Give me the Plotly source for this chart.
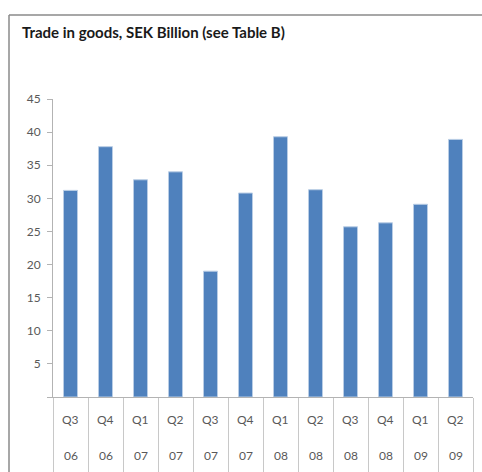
import plotly.graph_objects as go

# Quarterly trade in goods, SEK billion
quarters = ["Q3", "Q4", "Q1", "Q2", "Q3", "Q4", "Q1", "Q2", "Q3", "Q4", "Q1", "Q2"]
years = ["06", "06", "07", "07", "07", "07", "08", "08", "08", "08", "09", "09"]
values = [31.2, 37.8, 32.8, 34.0, 19.0, 30.8, 39.3, 31.3, 25.7, 26.3, 29.1, 38.9]
y_ticks = [0, 5, 10, 15, 20, 25, 30, 35, 40, 45]
y_ticktext = ["", "5", "10", "15", "20", "25", "30", "35", "40", "45"]

W, H = 482, 472
L, R, T, B = 53, 9, 99, 75
plot_w, plot_h = W - L - R, H - T - B

def px_x(x):
    return (x - L) / plot_w

def px_y(y):
    return (H - B - y) / plot_h

cats = [f"{q} {y}" for q, y in zip(quarters, years)]
grey_text = "#595959"
axis_grey = "#b3b3b3"
font_family = "Lato, 'Open Sans', sans-serif"
label_font = dict(size=12, color=grey_text, family=font_family)

fig = go.Figure(
    go.Bar(
        x=cats,
        y=values,
        width=0.4,
        marker=dict(color="#4f81bd", line=dict(color="#b9cde5", width=1)),
        hoverinfo="x+y",
    )
)

# Two-row category labels: quarter above, year below
annotations = []
for c, q, yr in zip(cats, quarters, years):
    annotations.append(dict(x=c, y=px_y(419.5), xref="x", yref="paper", text=q,
                            showarrow=False, yanchor="middle", font=label_font))
    annotations.append(dict(x=c, y=px_y(456), xref="x", yref="paper", text=yr,
                            showarrow=False, yanchor="middle", font=label_font))

frame = dict(color="#8a8a8a", width=1.5)

fig.update_layout(
    width=W,
    height=H,
    margin=dict(l=L, r=R, t=T, b=B, autoexpand=False),
    paper_bgcolor="white",
    plot_bgcolor="white",
    showlegend=False,
    title=dict(
        text="<b>Trade in goods, SEK Billion (see Table B)</b>",
        x=22 / W, xanchor="left", xref="container",
        y=1 - 33 / H, yanchor="middle", yref="container",
        font=dict(size=15, color="#1a1a1a", family=font_family),
    ),
    xaxis=dict(
        type="category",
        showline=True, linecolor=axis_grey, linewidth=1,
        ticks="outside", tickson="boundaries", ticklen=75,
        tickcolor="#c8c8c8", tickwidth=1,
        showticklabels=False, showgrid=False, zeroline=False,
        fixedrange=True, automargin=False,
    ),
    yaxis=dict(
        range=[0, 45],
        tickvals=y_ticks, ticktext=y_ticktext,
        showline=True, linecolor=axis_grey, linewidth=1,
        ticks="outside", ticklen=5, tickcolor=axis_grey,
        tickfont=label_font, ticklabelstandoff=4,
        showgrid=False, zeroline=False, fixedrange=True, automargin=False,
    ),
    annotations=annotations,
    shapes=[
        # Chart frame: left and top edges
        dict(type="line", xref="paper", yref="paper",
             x0=px_x(9), x1=px_x(9), y0=px_y(H), y1=px_y(15), line=frame),
        dict(type="line", xref="paper", yref="paper",
             x0=px_x(9), x1=px_x(W), y0=px_y(15), y1=px_y(15), line=frame),
    ],
)

fig.write_html("out.html")
